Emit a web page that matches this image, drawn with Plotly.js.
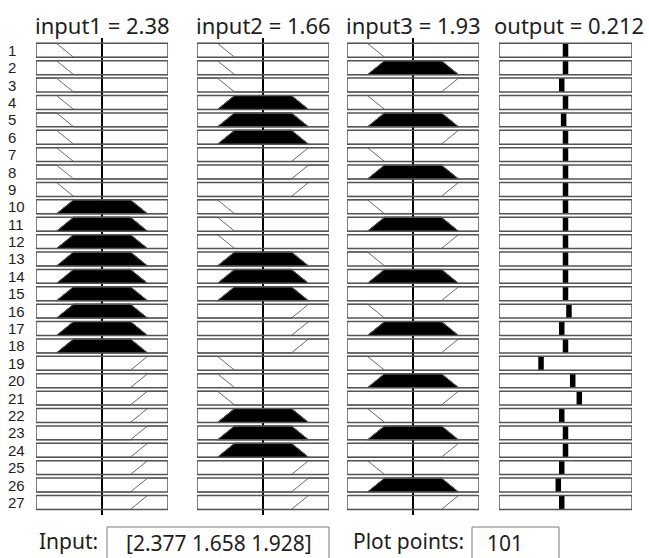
<!DOCTYPE html>
<html>
<head>
<meta charset="utf-8">
<script src="https://cdn.plot.ly/plotly-3.0.1.min.js"></script>
<style>html,body{margin:0;padding:0;background:#fff;}#chart{width:649px;height:558px;}</style>
</head>
<body>
<div id="chart"></div>
<script>
// ---------------- data ----------------
const ruleNumbers = [1,2,3,4,5,6,7,8,9,10,11,12,13,14,15,16,17,18,19,20,21,22,23,24,25,26,27];
const in1MF = [1,1,1,1,1,1,1,1,1,2,2,2,2,2,2,2,2,2,3,3,3,3,3,3,3,3,3];
const in2MF = [1,1,1,2,2,2,3,3,3,1,1,1,2,2,2,3,3,3,1,1,1,2,2,2,3,3,3];
const in3MF = [1,2,3,1,2,3,1,2,3,1,2,3,1,2,3,1,2,3,1,2,3,1,2,3,1,2,3];
const inputNames = ['input1','input2','input3'];
const inputValues = [2.377, 1.658, 1.928];
const inputRanges = [[0, 4.754], [0, 3.316], [0, 3.856]];
// trapezoid MF parameters [a,b,c,d] for low / mid / high of each input
const mfInput1 = [[0, 0, 0.737, 1.355], [0.737, 1.355, 3.399, 4.017], [3.399, 4.017, 4.754, 4.754]];
const mfInput2 = [[0, 0, 0.514, 0.945], [0.514, 0.945, 2.371, 2.802], [2.371, 2.802, 3.316, 3.316]];
const mfInput3 = [[0, 0, 0.598, 1.099], [0.598, 1.099, 2.757, 3.258], [2.757, 3.258, 3.856, 3.856]];
const outputName = 'output';
const outputValue = 0.212;
const outputRange = [0, 0.424];
const ruleOutputs = [0.212,0.212,0.200,0.212,0.206,0.212,0.212,0.212,0.212,
                     0.212,0.212,0.212,0.212,0.212,0.212,0.223,0.200,0.212,
                     0.134,0.235,0.256,0.200,0.212,0.212,0.200,0.189,0.200];
const plotPoints = 101;

// ---------------- helpers ----------------
const ruleMF = [in1MF, in2MF, in3MF];
const mfParams = [mfInput1, mfInput2, mfInput3];
function trapmf(x, p) {
  const [a,b,c,d] = p;
  const left = b > a ? (x - a) / (b - a) : (x >= a ? 1 : 0);
  const right = d > c ? (d - x) / (d - c) : (x <= d ? 1 : 0);
  return Math.max(0, Math.min(1, left, right));
}
const H = 0.40; // half box height in row units
function yOf(row, mu) { return row + H - 2 * H * mu; }

const traces = [];
const shapes = [];
const annotations = [];
const FONT = '"Noto Sans", "Open Sans", sans-serif';
const LBLFONT = '"Liberation Sans", Arial, sans-serif';
const TXT = '#1e1e1e';

const colDomains = [[36/649, 168/649], [197/649, 329/649], [347/649, 479/649], [499/649, 632/649]];

for (let k = 0; k < 3; k++) {
  const xa = k === 0 ? 'x' : 'x' + (k + 1);
  const fx = [], fy = [], lx = [], ly = [];
  const [xmin, xmax] = inputRanges[k];
  ruleNumbers.forEach((r, i) => {
    const p = mfParams[k][ruleMF[k][i] - 1];
    const mu = trapmf(inputValues[k], p);
    const pts = [xmin, p[0], p[1], p[2], p[3], xmax].filter((v, j, arr) => j === 0 || v > arr[j-1] - 1e-12);
    pts.forEach(x => { lx.push(x); ly.push(yOf(r, trapmf(x, p))); });
    lx.push(null); ly.push(null);
    if (mu > 0) {
      const [a,b,c,d] = p;
      const poly = [[a,0],[a + mu*(b-a), mu],[d - mu*(d-c), mu],[d,0],[a,0]];
      poly.forEach(([x,m]) => { fx.push(x); fy.push(yOf(r, m)); });
      fx.push(null); fy.push(null);
    }
  });
  traces.push({x: fx, y: fy, xaxis: xa, yaxis: 'y', type: 'scatter', mode: 'lines',
    fill: 'toself', fillcolor: '#000', line: {color: '#000', width: 1}, hoverinfo: 'skip', connectgaps: false});
  traces.push({x: lx, y: ly, xaxis: xa, yaxis: 'y', type: 'scatter', mode: 'lines',
    line: {color: '#6a6a6a', width: 1}, hoverinfo: 'skip', connectgaps: false});
  traces.push({x: [inputValues[k], inputValues[k]], y: [0.293, 27.72], xaxis: xa, yaxis: 'y',
    type: 'scatter', mode: 'lines', line: {color: '#000', width: 2}, hoverinfo: 'skip'});
  annotations.push({xref: xa + ' domain', yref: 'paper', x: 0.5, y: 1 - 25/558, xanchor: 'center', yanchor: 'middle',
    text: inputNames[k] + ' = ' + inputValues[k].toFixed(2), showarrow: false, font: {family: FONT, size: 22, color: TXT}});
}
{
  const bx = [], by = [];
  ruleNumbers.forEach((r, i) => { bx.push(ruleOutputs[i], ruleOutputs[i], null); by.push(r - H, r + H, null); });
  traces.push({x: bx, y: by, xaxis: 'x4', yaxis: 'y', type: 'scatter', mode: 'lines',
    line: {color: '#000', width: 5.5}, hoverinfo: 'skip', connectgaps: false});
  annotations.push({xref: 'x4 domain', yref: 'paper', x: 0.53, y: 1 - 25/558, xanchor: 'center', yanchor: 'middle',
    text: outputName + ' = ' + outputValue.toFixed(3), showarrow: false, font: {family: FONT, size: 22, color: TXT}});
}
const axesX = ['x','x2','x3','x4'];
const allRanges = [inputRanges[0], inputRanges[1], inputRanges[2], outputRange];
axesX.forEach((xa, k) => {
  ruleNumbers.forEach(r => {
    shapes.push({type: 'rect', xref: xa, yref: 'y', x0: allRanges[k][0], x1: allRanges[k][1], y0: r - H, y1: r + H,
      line: {color: '#555', width: 1.5}, fillcolor: 'rgba(0,0,0,0)', layer: 'above'});
  });
});
ruleNumbers.forEach(r => {
  annotations.push({xref: 'paper', yref: 'y', x: 7/649, y: r, xanchor: 'left', yanchor: 'middle',
    text: String(r), showarrow: false, borderpad: 0,
    font: {family: LBLFONT, size: 15, color: TXT}});
});
const py = v => 1 - v/558;
annotations.push({xref: 'paper', yref: 'paper', x: 37/649, y: py(541), xanchor: 'left', yanchor: 'middle',
  text: 'Input:', showarrow: false, font: {family: FONT, size: 21, color: TXT}});
shapes.push({type: 'rect', xref: 'paper', yref: 'paper', x0: 107/649, x1: 329/649, y0: -0.1, y1: py(527),
  line: {color: '#7a7a7a', width: 1}, fillcolor: '#fff'});
annotations.push({xref: 'paper', yref: 'paper', x: 124/649, y: py(543), xanchor: 'left', yanchor: 'middle',
  text: '[' + inputValues.join(' ') + ']', showarrow: false, font: {family: FONT, size: 21, color: TXT}});
annotations.push({xref: 'paper', yref: 'paper', x: 351/649, y: py(541), xanchor: 'left', yanchor: 'middle',
  text: 'Plot points:', showarrow: false, font: {family: FONT, size: 21, color: TXT}});
shapes.push({type: 'rect', xref: 'paper', yref: 'paper', x0: 472/649, x1: 559/649, y0: -0.1, y1: py(527),
  line: {color: '#7a7a7a', width: 1}, fillcolor: '#fff'});
annotations.push({xref: 'paper', yref: 'paper', x: 485/649, y: py(543), xanchor: 'left', yanchor: 'middle',
  text: String(plotPoints), showarrow: false, font: {family: FONT, size: 21, color: TXT}});

const layout = {
  width: 649, height: 558, margin: {l: 0, r: 0, t: 0, b: 0},
  paper_bgcolor: '#fff', plot_bgcolor: 'rgba(0,0,0,0)', showlegend: false,
  yaxis: {range: [30.195, -1.8925], domain: [0, 1], visible: false, fixedrange: true},
  shapes: shapes, annotations: annotations
};
axesX.forEach((xa, k) => {
  const key = k === 0 ? 'xaxis' : 'xaxis' + (k + 1);
  layout[key] = {domain: colDomains[k], range: allRanges[k], visible: false, fixedrange: true, anchor: 'y'};
});
Plotly.newPlot('chart', traces, layout, {staticPlot: true, displayModeBar: false});
</script>
</body>
</html>
